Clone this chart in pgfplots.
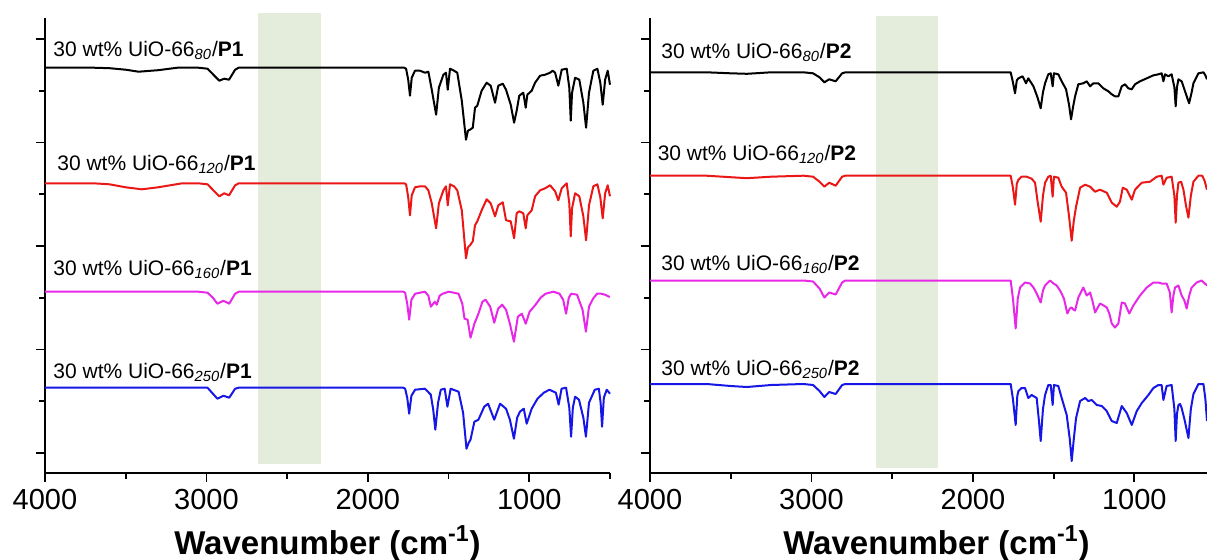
\documentclass[border=0pt]{standalone}
\usepackage{fontspec}
\setmainfont{Liberation Sans}
\usepackage{pgfplots}
\pgfplotsset{compat=1.18}
\usepackage{pgfplotstable}

\definecolor{cred}{RGB}{235,22,22}
\definecolor{cmag}{RGB}{232,40,232}
\definecolor{cblu}{RGB}{22,22,230}
\definecolor{cband}{RGB}{228,236,220}

% depth tables (px below each trace's baseline)
\pgfplotstableread{
w d
4000 0
3700 0
3600 -0.5
3500 -2
3420 -4
3300 -2.5
3180 0
3050 0
2993 -1
2957 -7
2920 -13
2890 -11
2860 -12
2822 -2
2800 0
1775 0
1763 -1
1750 -12
1739 -28
1728 -10
1708 -3
1677 -3
1646 -5
1625 -4
1604 -22
1590 -35
1577 -47
1560 -20
1532 -7
1516 -5
1505 -22
1491 -1
1466 -3
1446 -5
1418 -33
1392 -72
1380 -63
1367 -62
1350 -60
1336 -40
1322 -38
1295 -23
1264 -15
1239 -18
1212 -35
1192 -18
1164 -16
1144 -22
1115 -37
1094 -55
1078 -43
1062 -28
1037 -25
1022 -40
1012 -27
985 -23
964 -15
933 -8
902 -7
871 -5
855 -3
840 -5
820 -18
799 -2
768 -1
752 -20
743 -53
735 -25
716 -10
690 -12
665 -35
648 -60
630 -25
603 -3
578 -1
560 -15
545 -37
530 -12
514 -3
500 -17
}\Lbk

\pgfplotstableread{
w d
4000 0
3700 0
3600 -1
3500 -4
3400 -6
3300 -4
3150 0
3050 0
2993 -1
2957 -7
2920 -13
2890 -10
2860 -12
2822 -2
2800 0
1775 0
1763 -1
1750 -14
1739 -32
1728 -12
1708 -4
1677 -3
1646 -3
1625 -7
1604 -20
1590 -33
1577 -45
1560 -20
1532 -7
1516 -3
1505 -22
1491 -1
1466 -3
1446 -7
1418 -27
1392 -75
1380 -64
1367 -62
1350 -58
1336 -42
1322 -38
1295 -27
1264 -16
1239 -20
1212 -33
1192 -22
1164 -19
1144 -37
1115 -38
1094 -55
1078 -30
1062 -28
1037 -30
1022 -45
1012 -32
985 -27
964 -13
933 -7
902 -5
871 -2
840 -8
820 -17
799 -5
768 0
752 -20
743 -53
735 -25
716 -10
690 -13
665 -33
648 -57
630 -22
603 -3
578 -1
560 -14
545 -35
530 -10
514 -2
500 -13
}\Lrd

\pgfplotstableread{
w d
4000 0
3050 0
2993 -1
2960 -6
2932 -12
2895 -9
2859 -12
2822 -2
2800 0
1780 0
1769 -1
1756 -12
1744 -28
1730 -8
1707 -2
1646 0
1625 -4
1610 -15
1585 -10
1573 -13
1555 -4
1536 -2
1499 0
1438 -2
1415 -12
1401 -27
1382 -28
1364 -46
1340 -32
1315 -22
1290 -10
1271 -8
1242 -15
1217 -31
1193 -17
1168 -13
1144 -18
1120 -32
1095 -50
1071 -25
1046 -22
1022 -32
998 -20
961 -13
930 -6
899 -2
850 0
813 -2
790 -8
772 -22
755 -6
740 -2
704 -3
670 -18
649 -40
630 -15
605 -7
580 -2
556 -2
530 -3
507 -5
500 -5
}\Lmg

\pgfplotstableread{
w d
4000 0
3050 0
2993 0
2960 -6
2932 -11
2895 -8
2859 -10
2822 -1
2800 0
1780 0
1769 -1
1756 -10
1744 -26
1730 -8
1707 -2
1646 -1
1610 -7
1595 -22
1582 -42
1565 -15
1548 -2
1524 -1
1507 -19
1487 -1
1438 -4
1410 -25
1389 -61
1375 -55
1364 -52
1340 -34
1315 -32
1279 -19
1255 -16
1217 -32
1181 -16
1144 -21
1120 -32
1095 -51
1075 -30
1058 -24
1034 -21
1016 -36
985 -21
949 -11
910 -5
875 -2
835 -5
818 -17
800 -1
772 0
752 -20
741 -49
730 -20
716 -9
692 -12
665 -30
649 -49
630 -15
594 -2
569 -1
558 -15
549 -39
538 -10
520 -2
500 -6
}\Lbl

\pgfplotstableread{
w d
4000 0
3650 0
3500 -1
3400 -1.5
3250 0
3050 0
2990 -1
2950 -5
2920 -10
2890 -7
2850 -9
2810 -1
2790 0
1775 0
1766 0
1752 -10
1739 -21
1728 -8
1718 -6
1692 -4
1671 -11
1657 -6
1625 -14
1600 -25
1580 -36
1566 -20
1553 -11
1533 -2
1518 -1
1506 -14
1498 -1
1471 -2
1450 -9
1423 -17
1405 -32
1392 -47
1380 -35
1367 -24
1347 -12
1316 -11
1295 -9
1274 -14
1254 -11
1223 -11
1192 -16
1161 -19
1140 -22
1120 -24
1099 -24
1078 -14
1058 -12
1037 -16
1016 -17
996 -12
965 -9
923 -6
882 -3
851 -2
831 -1
820 -9
810 -2
789 -4
769 -2
752 -15
744 -34
736 -15
727 -7
707 -9
686 -19
661 -31
645 -20
634 -11
603 -1
572 0
560 -3
550 -7
}\Rbk

\pgfplotstableread{
w d
4000 0
3650 0
3500 -1.5
3400 -2.5
3250 -1
3050 0
2990 -1
2950 -6
2920 -11
2890 -7
2850 -10
2810 -1
2790 0
1775 0
1766 0
1752 -12
1739 -29
1728 -8
1718 -4
1698 -1
1667 -1
1636 -3
1615 -7
1600 -25
1580 -46
1566 -20
1553 -7
1533 -1
1518 0
1506 -21
1498 -1
1471 -2
1450 -11
1423 -17
1405 -40
1388 -65
1375 -45
1361 -31
1336 -12
1305 -9
1274 -11
1243 -16
1213 -14
1171 -17
1140 -27
1109 -31
1089 -26
1072 -12
1047 -14
1016 -24
996 -14
954 -7
903 -6
861 -1
831 0
820 -9
800 -2
769 -1
752 -20
744 -47
736 -20
727 -7
710 -6
696 -14
680 -30
665 -42
650 -20
634 -6
603 0
580 0
565 -5
550 -14
}\Rrd

\pgfplotstableread{
w d
4000 0
3050 0
2990 -1
2950 -8
2920 -17
2890 -12
2850 -14
2810 -2
2790 0
1775 0
1766 0
1752 -18
1735 -48
1722 -18
1708 -7
1677 -2
1646 -3
1625 -7
1605 -13
1580 -22
1566 -10
1553 -5
1522 0
1501 -3
1481 -5
1460 -10
1436 -18
1415 -33
1400 -28
1388 -27
1378 -29
1367 -30
1347 -17
1316 -7
1295 -15
1274 -12
1260 -20
1243 -32
1213 -23
1190 -25
1171 -27
1155 -33
1140 -43
1120 -47
1099 -43
1078 -22
1058 -23
1045 -28
1031 -33
1006 -25
965 -15
923 -7
882 -2
851 -2
831 -3
800 -3
780 -12
769 -32
758 -15
748 -7
727 -5
707 -15
690 -20
676 -28
660 -15
645 -7
614 -2
583 0
550 -5
}\Rmg

\pgfplotstableread{
w d
4000 0
3650 0
3500 -2
3400 -3
3250 -1
3050 0
2990 -1
2950 -7
2920 -13
2890 -8
2850 -10
2810 -1
2790 0
1775 0
1766 0
1752 -15
1735 -41
1725 -12
1718 -7
1698 -4
1677 -4
1657 -14
1636 -11
1605 -14
1592 -35
1580 -57
1566 -25
1553 -11
1533 -1
1518 -1
1506 -21
1498 -1
1471 -2
1450 -14
1419 -31
1400 -55
1388 -77
1375 -55
1361 -34
1336 -17
1305 -14
1285 -17
1264 -16
1233 -21
1202 -22
1171 -27
1140 -37
1109 -39
1078 -22
1047 -29
1016 -41
985 -27
954 -19
913 -11
882 -4
851 -1
831 -1
820 -16
800 -2
769 -1
752 -25
744 -57
736 -30
727 -21
717 -20
707 -24
690 -35
665 -54
650 -25
634 -10
603 0
572 0
560 -15
550 -37
}\Rbl

\pgfplotsset{
  ftir/.style={
    scale only axis, height=227.5pt,
    xmax=4000, x dir=reverse, ymin=0, ymax=455,
    axis x line*=bottom, axis y line*=left,
    xtick={1000,2000,3000,4000}, minor xtick={500,1500,2500,3500},
    ytick={20,123.5,227,330.5,434}, minor ytick={71.75,175.25,278.75,382.25},
    yticklabels={},
    tick align=outside, major tick length=4.5pt, minor tick length=2.8pt,
    axis line style={line width=0.9pt, black},
    tick style={line width=0.9pt, black},
    /pgf/number format/assume math mode=true,
    /pgf/number format/1000 sep={},
    tick label style={font=\fontsize{14.5}{17}\selectfont},
    xlabel={\textbf{Wavenumber (cm\textsuperscript{-1})}},
    xlabel style={font=\fontsize{16.5}{19}\selectfont, at={(axis description cs:0.5,0)}, anchor=base, yshift=-40.5pt},
    clip=false,
    every axis plot/.append style={line width=1pt, line join=round},
  },
}
\tikzset{lab/.style={anchor=base west, inner sep=0pt, font=\fontsize{10.5}{12}\selectfont}}

\begin{document}
\begin{tikzpicture}
\path[use as bounding box] (-22.5pt,-43pt) rectangle (581pt,236.5pt);

\begin{axis}[ftir, width=282.5pt, xmin=500, at={(0pt,0pt)}, anchor=south west]
  \fill[cband] (axis cs:2680,9.3) rectangle (axis cs:2290,460.3);
  \addplot[black] table[x=w, y expr=\thisrow{d}+405.3] {\Lbk};
  \addplot[cred] table[x=w, y expr=\thisrow{d}+289.7] {\Lrd};
  \addplot[cmag] table[x=w, y expr=\thisrow{d}+181.3] {\Lmg};
  \addplot[cblu] table[x=w, y expr=\thisrow{d}+85.3] {\Lbl};
  \node[lab] at (axis cs:3950,417) {30 wt\% UiO-66\textsubscript{\itshape 80}/\textbf{P1}};
  \node[lab] at (axis cs:3926,303) {30 wt\% UiO-66\textsubscript{\itshape 120}/\textbf{P1}};
  \node[lab] at (axis cs:3950,198) {30 wt\% UiO-66\textsubscript{\itshape 160}/\textbf{P1}};
  \node[lab] at (axis cs:3950,95) {30 wt\% UiO-66\textsubscript{\itshape 250}/\textbf{P1}};
\end{axis}

\begin{axis}[ftir, width=278.5pt, xmin=550, at={(302.5pt,0pt)}, anchor=south west,
  xlabel style={xshift=4pt}]
  \fill[cband] (axis cs:2602,5.3) rectangle (axis cs:2217,457);
  \addplot[black] table[x=w, y expr=\thisrow{d}+400.7] {\Rbk};
  \addplot[cred] table[x=w, y expr=\thisrow{d}+297.3] {\Rrd};
  \addplot[cmag] table[x=w, y expr=\thisrow{d}+192.5] {\Rmg};
  \addplot[cblu] table[x=w, y expr=\thisrow{d}+89] {\Rbl};
  \node[lab] at (axis cs:3932,415) {30 wt\% UiO-66\textsubscript{\itshape 80}/\textbf{P2}};
  \node[lab] at (axis cs:3954,313) {30 wt\% UiO-66\textsubscript{\itshape 120}/\textbf{P2}};
  \node[lab] at (axis cs:3932,203) {30 wt\% UiO-66\textsubscript{\itshape 160}/\textbf{P2}};
  \node[lab] at (axis cs:3932,98) {30 wt\% UiO-66\textsubscript{\itshape 250}/\textbf{P2}};
\end{axis}
\end{tikzpicture}
\end{document}
